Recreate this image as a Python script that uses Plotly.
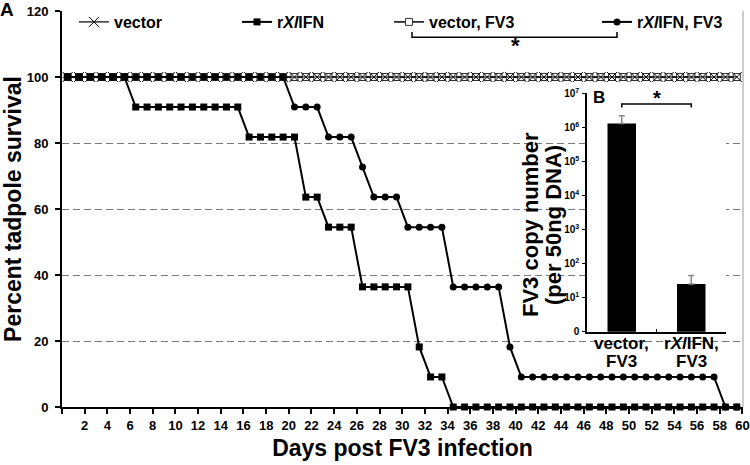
import plotly.graph_objects as go

# ---------------- data ----------------
days = list(range(1, 61))
vector = [100] * 60
vector_fv3 = [100] * 60
rxlifn = ([100] * 6 + [90.9] * 10 + [81.8] * 5 + [63.6] * 2 + [54.5] * 3 +
          [36.4] * 5 + [18.2] * 1 + [9.1] * 2 + [0] * 26)
rxlifn_fv3 = ([100] * 20 + [90.9] * 3 + [81.8] * 3 + [72.7] * 1 + [63.6] * 3 +
              [54.5] * 4 + [36.4] * 5 + [18.2] * 1 + [9.1] * 18 + [0] * 2)
x_tick_labels = [str(d) for d in range(2, 61, 2)]
y_ticks = [0, 20, 40, 60, 80, 100, 120]

inset_cats = ["vector,<br>FV3", "r<i>Xl</i>IFN,<br>FV3"]
inset_vals = [1.3e6, 25]
inset_err = [0.9e6, 20]
inset_tickvals = [1, 10, 100, 1e3, 1e4, 1e5, 1e6, 1e7]
inset_ticktext = ["0", "10<sup>1</sup>", "10<sup>2</sup>", "10<sup>3</sup>",
                  "10<sup>4</sup>", "10<sup>5</sup>", "10<sup>6</sup>", "10<sup>7</sup>"]

FONT = "Liberation Sans, Arial, sans-serif"
W, H = 750, 465
ML, MR, MT, MB = 62, 7, 11, 58
PW, PH = W - ML - MR, H - MT - MB


def px_x(p):
    return (p - ML) / PW


def px_y(p):
    return (H - MB - p) / PH


fig = go.Figure()

# ---------------- main survival chart ----------------
fig.add_trace(go.Scatter(
    x=days, y=vector_fv3, mode="lines+markers", name="vector, FV3",
    line=dict(color="black", width=1.5),
    marker=dict(symbol="square", size=7, color="white",
                line=dict(color="#333333", width=1)),
    legend="legend3", cliponaxis=False))
fig.add_trace(go.Scatter(
    x=days, y=vector, mode="lines+markers", name="vector",
    line=dict(color="black", width=1.2),
    marker=dict(symbol="x-thin-open", size=10, color="black",
                line=dict(color="black", width=1)),
    legend="legend", cliponaxis=False))
fig.add_trace(go.Scatter(
    x=days, y=rxlifn, mode="lines+markers", name="r<i>Xl</i>IFN",
    line=dict(color="black", width=2),
    marker=dict(symbol="square", size=7, color="black"),
    legend="legend2", cliponaxis=False))
fig.add_trace(go.Scatter(
    x=days, y=rxlifn_fv3, mode="lines+markers", name="r<i>Xl</i>IFN, FV3",
    line=dict(color="black", width=2),
    marker=dict(symbol="circle", size=7, color="black"),
    legend="legend4", cliponaxis=False))

# ---------------- inset bar chart ----------------
fig.add_trace(go.Bar(
    x=inset_cats, y=inset_vals, xaxis="x2", yaxis="y2",
    marker=dict(color="black", line=dict(width=0)),
    error_y=dict(type="data", array=inset_err, arrayminus=[0, 0],
                 symmetric=False, color="#8a8a8a", thickness=1.5, width=3),
    width=0.41, showlegend=False))

leg_common = dict(orientation="h", yanchor="middle", xanchor="left",
                  bgcolor="rgba(0,0,0,0)", itemwidth=30,
                  font=dict(family=FONT, size=16, color="black", weight="bold"))

fig.update_layout(
    width=W, height=H,
    margin=dict(l=ML, r=MR, t=MT, b=MB, autoexpand=False),
    paper_bgcolor="white", plot_bgcolor="white",
    font=dict(family=FONT, color="black"),
    legend=dict(x=px_x(74), y=px_y(22), **leg_common),
    legend2=dict(x=px_x(237), y=px_y(22), **leg_common),
    legend3=dict(x=px_x(389), y=px_y(22), **leg_common),
    legend4=dict(x=px_x(597), y=px_y(22), **leg_common),
    xaxis=dict(
        range=[0.5, 60.55], showgrid=False, zeroline=False, automargin=False,
        showline=True, linecolor="black", linewidth=2,
        ticks="outside", ticklen=5, tickwidth=2, tickcolor="black",
        tickvals=[0.5] + [d + 0.5 for d in range(2, 61, 2)],
        ticktext=[""] + x_tick_labels,
        tickfont=dict(family=FONT, size=13, color="black", weight="bold"),
        title=dict(text="Days post FV3 infection", standoff=8,
                   font=dict(family=FONT, size=23, color="black", weight="bold")),
    ),
    yaxis=dict(
        range=[0, 120], tickvals=y_ticks, zeroline=False, automargin=False,
        showgrid=True, gridcolor="#7a7a7a", gridwidth=1, griddash="7px,4px",
        showline=True, linecolor="black", linewidth=2,
        ticks="outside", ticklen=5, tickwidth=2, tickcolor="black",
        ticklabelstandoff=4,
        tickfont=dict(family=FONT, size=13, color="black", weight="bold"),
        title=dict(text="Percent tadpole survival", standoff=0,
                   font=dict(family=FONT, size=23, color="black", weight="bold")),
    ),
    xaxis2=dict(
        domain=[px_x(587), px_x(726)], anchor="y2", type="category",
        range=[-0.5, 1.5], showgrid=False, zeroline=False, automargin=False,
        showline=True, linecolor="black", linewidth=1.5,
        tickson="boundaries", ticks="inside", ticklen=3, tickwidth=1,
        tickcolor="black", showticklabels=False,
    ),
    yaxis2=dict(
        domain=[px_y(331.7), px_y(93.3)], anchor="x2", type="log",
        range=[0, 7], showgrid=False, zeroline=False, automargin=False,
        showline=True, linecolor="black", linewidth=1.5,
        ticks="outside", ticklen=3, tickwidth=1, tickcolor="black",
        tickvals=inset_tickvals, ticktext=inset_ticktext,
        ticklabelstandoff=1,
        tickfont=dict(family=FONT, size=10, color="black", weight="bold"),
    ),
    bargap=0.59,
)

shapes = [
    # white backdrop of the inset panel (hides main gridlines)
    dict(type="rect", xref="paper", yref="paper", layer="between",
         x0=px_x(512), x1=px_x(732), y0=px_y(335), y1=px_y(85),
         fillcolor="white", line=dict(width=0)),
    dict(type="rect", xref="paper", yref="paper", layer="between",
         x0=px_x(560), x1=px_x(732), y0=px_y(372), y1=px_y(335),
         fillcolor="white", line=dict(width=0)),
    # right plot border
    dict(type="line", xref="paper", yref="paper", x0=1, x1=1, y0=0, y1=1,
         line=dict(color="#9a9a9a", width=1)),
    # significance bracket (main)
    dict(type="path", xref="paper", yref="paper",
         path=f"M{px_x(412)},{px_y(32)} L{px_x(412)},{px_y(37.3)} "
              f"L{px_x(617)},{px_y(37.3)} L{px_x(617)},{px_y(32)}",
         line=dict(color="black", width=1.5)),
    # significance bracket (inset)
    dict(type="path", xref="x2", yref="paper",
         path=f"M0,{px_y(107.5)} L0,{px_y(104)} L1,{px_y(104)} L1,{px_y(107.5)}",
         line=dict(color="black", width=1.5)),
]
fig.update_layout(shapes=shapes)

ann = [
    dict(text="<b>A</b>", x=px_x(7), y=px_y(10), font=dict(size=19)),
    dict(text="<b>*</b>", x=px_x(515), y=px_y(46), font=dict(size=22)),
    dict(text="<b>B</b>", x=px_x(599), y=px_y(97.5), font=dict(size=17)),
    dict(text="<b>*</b>", x=px_x(657), y=px_y(98), font=dict(size=20)),
    dict(text="<b>FV3 copy number</b>", x=px_x(530), y=px_y(225),
         textangle=-90, font=dict(size=22)),
    dict(text="<b>(per 50ng DNA)</b>", x=px_x(553), y=px_y(225),
         textangle=-90, font=dict(size=22)),
]
for a in ann:
    a.update(xref="paper", yref="paper", showarrow=False,
             xanchor="center", yanchor="middle")
    a["font"].update(family=FONT, color="black")

# inset category labels (two lines each)
for i, cat in enumerate(inset_cats):
    for j, line in enumerate(cat.split("<br>")):
        ann.append(dict(text=f"<b>{line}</b>", x=i, xref="x2",
                        y=px_y(343 + 18 * j), yref="paper", showarrow=False,
                        xanchor="center", yanchor="middle",
                        font=dict(family=FONT, size=17, color="black")))

fig.update_layout(annotations=ann)

fig.write_html("out.html",
               config={"displayModeBar": False},
               post_script="document.body.style.margin='0px';"
                           "document.body.style.overflow='hidden';")
